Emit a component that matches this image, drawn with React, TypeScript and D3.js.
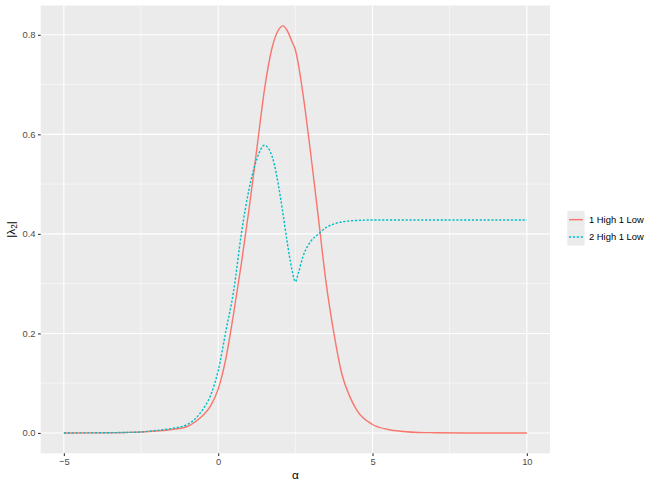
import React, { useEffect, useRef } from "react";
import * as d3 from "d3";

// alpha values (x) and |lambda2| for each series
const alpha = [-5, -4, -3, -2.5, -2, -1.5, -1, -0.75, -0.5, -0.25, 0, 0.25, 0.5, 0.75, 1, 1.25, 1.5, 1.75, 2, 2.1, 2.25, 2.4, 2.5, 2.6, 2.75, 3, 3.25, 3.5, 3.75, 4, 4.25, 4.5, 5, 5.5, 6, 6.5, 7, 8, 9, 10];
const oneHighOneLow = [0, 0.0002, 0.001, 0.002, 0.004, 0.007, 0.013, 0.022, 0.035, 0.054, 0.088, 0.15, 0.24, 0.34, 0.45, 0.57, 0.69, 0.775, 0.814, 0.818, 0.807, 0.785, 0.77, 0.74, 0.68, 0.56, 0.43, 0.3, 0.2, 0.12, 0.075, 0.045, 0.017, 0.007, 0.003, 0.001, 0.0005, 0, 0, 0];
const twoHighOneLow = [0, 0.0003, 0.001, 0.002, 0.005, 0.009, 0.017, 0.028, 0.047, 0.075, 0.125, 0.205, 0.285, 0.4, 0.49, 0.55, 0.578, 0.555, 0.48, 0.44, 0.378, 0.325, 0.304, 0.322, 0.355, 0.385, 0.4, 0.413, 0.42, 0.424, 0.426, 0.427, 0.428, 0.428, 0.428, 0.428, 0.428, 0.428, 0.428, 0.428];
const seriesNames = ["1 High 1 Low", "2 High 1 Low"];
const seriesColors = ["#F8766D", "#00BFC4"];
const xTicks = [-5, 0, 5, 10];
const yTicks = [0, 0.2, 0.4, 0.6, 0.8];

const App = () => {
  const svgRef = useRef<SVGSVGElement>(null);

  useEffect(() => {
    const svg = d3.select(svgRef.current);
    svg.selectAll("*").remove();

    const font = "'Liberation Sans', Arial, sans-serif";
    const left = 40.7, right = 550, top = 5.5, bottom = 453.3;

    const x = d3.scaleLinear().domain([-5.75, 10.75]).range([left, right]);
    const y = d3.scaleLinear().domain([-0.0409, 0.8589]).range([bottom, top]);

    svg.append("rect").attr("width", 654).attr("height", 485).attr("fill", "white");
    svg.append("rect").attr("x", left).attr("y", top).attr("width", right - left).attr("height", bottom - top).attr("fill", "#EBEBEB");

    // minor grid
    const xMinor = [-2.5, 2.5, 7.5];
    const yMinor = [0.1, 0.3, 0.5, 0.7];
    svg.append("g").selectAll("line").data(xMinor).enter().append("line")
      .attr("x1", (d) => x(d)).attr("x2", (d) => x(d)).attr("y1", top).attr("y2", bottom)
      .attr("stroke", "white").attr("stroke-width", 0.53);
    svg.append("g").selectAll("line").data(yMinor).enter().append("line")
      .attr("y1", (d) => y(d)).attr("y2", (d) => y(d)).attr("x1", left).attr("x2", right)
      .attr("stroke", "white").attr("stroke-width", 0.53);
    // major grid
    svg.append("g").selectAll("line").data(xTicks).enter().append("line")
      .attr("x1", (d) => x(d)).attr("x2", (d) => x(d)).attr("y1", top).attr("y2", bottom)
      .attr("stroke", "white").attr("stroke-width", 1.07);
    svg.append("g").selectAll("line").data(yTicks).enter().append("line")
      .attr("y1", (d) => y(d)).attr("y2", (d) => y(d)).attr("x1", left).attr("x2", right)
      .attr("stroke", "white").attr("stroke-width", 1.07);

    // axes
    const xAxis = svg.append("g").attr("transform", `translate(0, ${bottom})`)
      .call(d3.axisBottom(x).tickValues(xTicks).tickSize(2.74).tickPadding(2.6).tickFormat(d3.format("d")));
    const yAxis = svg.append("g").attr("transform", `translate(${left}, 0)`)
      .call(d3.axisLeft(y).tickValues(yTicks).tickSize(2.74).tickPadding(2.4).tickFormat(d3.format(".1f")));
    [xAxis, yAxis].forEach((a) => {
      a.select(".domain").remove();
      a.selectAll("line").attr("stroke", "#333333").attr("stroke-width", 1.07);
      a.selectAll("text").attr("fill", "#4D4D4D").style("font-family", font).style("font-size", "9.4px");
    });
    xAxis.selectAll("text").text((d: any) => (d < 0 ? "\u2212" + Math.abs(d) : String(d)));

    // lines
    const series = [oneHighOneLow, twoHighOneLow];
    const line = d3.line<number>().x((_, i) => x(alpha[i])).y((d) => y(d)).curve(d3.curveMonotoneX);
    series.forEach((vals, i) => {
      svg.append("path").datum(vals).attr("d", line).attr("fill", "none")
        .attr("stroke", seriesColors[i]).attr("stroke-width", 1.42)
        .attr("stroke-dasharray", i === 1 ? "2.2,1.7" : null);
    });

    // axis titles
    svg.append("text").attr("x", (left + right) / 2).attr("y", 479).attr("text-anchor", "middle")
      .style("font-family", font).style("font-size", "11.8px").attr("fill", "black").text("\u03B1");
    const yt = svg.append("text").attr("transform", `translate(14.5, ${(top + bottom) / 2}) rotate(-90)`)
      .attr("text-anchor", "middle").style("font-family", font).style("font-size", "11.8px").attr("fill", "black");
    yt.append("tspan").text("|\u03BB");
    yt.append("tspan").attr("dy", 2.5).style("font-size", "8.3px").text("2");
    yt.append("tspan").attr("dy", -2.5).text("|");

    // legend
    const keyX = 567.3, keyW = 17.3, keyH = 17.3, legTop = 211;
    const legend = svg.append("g");
    legend.selectAll("rect").data(seriesNames).enter().append("rect")
      .attr("x", keyX).attr("y", (_, i) => legTop + i * keyH).attr("width", keyW).attr("height", keyH).attr("fill", "#EBEBEB");
    legend.selectAll("line").data(seriesNames).enter().append("line")
      .attr("x1", keyX + 1.7).attr("x2", keyX + keyW - 1.7)
      .attr("y1", (_, i) => legTop + i * keyH + keyH / 2).attr("y2", (_, i) => legTop + i * keyH + keyH / 2)
      .attr("stroke", (_, i) => seriesColors[i]).attr("stroke-width", 1.42)
      .attr("stroke-dasharray", (_, i) => (i === 1 ? "2.2,1.7" : null));
    legend.selectAll("text").data(seriesNames).enter().append("text")
      .attr("x", keyX + keyW + 4.4).attr("y", (_, i) => legTop + i * keyH + keyH / 2)
      .attr("dy", "0.35em").style("font-family", font).style("font-size", "9.4px").attr("fill", "black")
      .text((d) => d);
  }, []);

  return <svg ref={svgRef} width={654} height={485} style={{ position: "absolute", left: 0, top: 0 }}></svg>;
};

export default App;
